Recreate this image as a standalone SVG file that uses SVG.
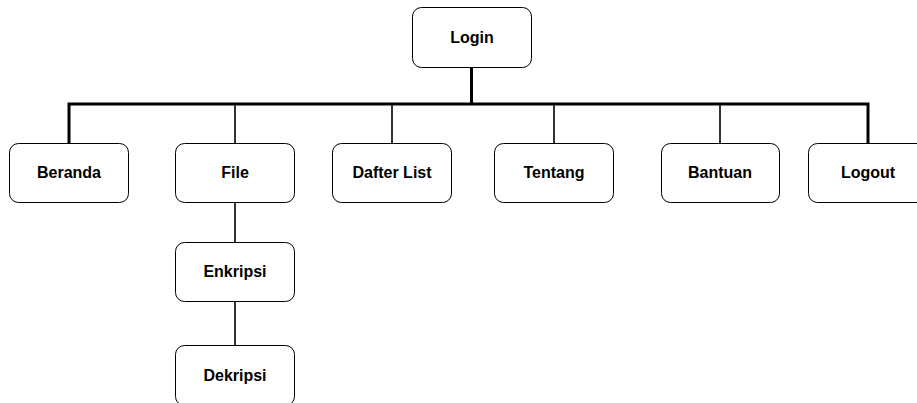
<svg xmlns="http://www.w3.org/2000/svg" width="917" height="403" viewBox="0 0 917 403">
<style>
.box{fill:#fff;stroke:#000;stroke-width:1}
.lbl{font-family:"Liberation Sans",Arial,sans-serif;font-weight:bold;font-size:16px;fill:#000;text-anchor:middle;dominant-baseline:central}
.thick{stroke:#000;stroke-width:3;fill:none}
.thin{stroke:#333;stroke-width:2;fill:none}
</style>
<rect width="917" height="403" fill="#fff"/>
<g id="connectors">
<path class="thick" d="M471.5 67 V104 M69 143 V104 H868 V143"/>
<path class="thin" d="M235 105 V143 M392 105 V143 M554 105 V143 M720 105 V143 M235 203 V243 M235 302 V346"/>
</g>
<g id="login"><rect class="box" x="412.5" y="7.5" width="119" height="60" rx="9"/><text class="lbl" x="472" y="37">Login</text></g>
<g id="beranda"><rect class="box" x="9.5" y="143.5" width="119" height="59" rx="9"/><text class="lbl" x="69" y="172">Beranda</text></g>
<g id="file"><rect class="box" x="175.5" y="143.5" width="119" height="59" rx="9"/><text class="lbl" x="235" y="172">File</text></g>
<g id="dafter-list"><rect class="box" x="332.5" y="143.5" width="119" height="59" rx="9"/><text class="lbl" x="392" y="172">Dafter List</text></g>
<g id="tentang"><rect class="box" x="494.5" y="143.5" width="119" height="59" rx="9"/><text class="lbl" x="554" y="172">Tentang</text></g>
<g id="bantuan"><rect class="box" x="661.5" y="143.5" width="118" height="59" rx="9"/><text class="lbl" x="720" y="172">Bantuan</text></g>
<g id="logout"><rect class="box" x="808.5" y="143.5" width="119" height="59" rx="9"/><text class="lbl" x="868" y="172">Logout</text></g>
<g id="enkripsi"><rect class="box" x="175.5" y="242.5" width="119" height="59" rx="9"/><text class="lbl" x="235" y="271.5">Enkripsi</text></g>
<g id="dekripsi"><rect class="box" x="175.5" y="345.5" width="119" height="60" rx="9"/><text class="lbl" x="235" y="375">Dekripsi</text></g>
</svg>
